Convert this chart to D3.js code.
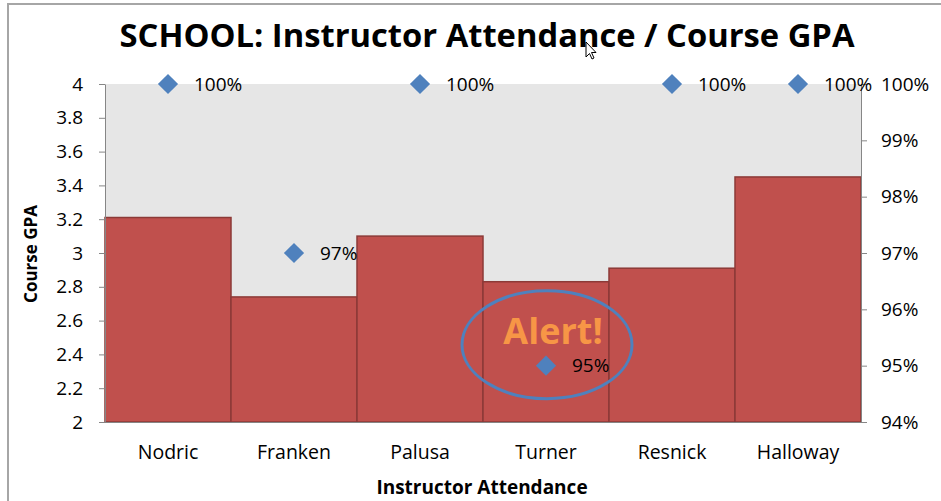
<!DOCTYPE html>
<html lang="en">
<head>
  <meta charset="UTF-8">
  <title>Instructor Attendance / Course GPA</title>
  <style>
    body { margin: 0; background: #fff; }
    svg text { font-family: "Open Sans", "Liberation Sans", sans-serif; fill: #000; }
    .axis path, .axis line { stroke: #868686; }
  </style>
</head>
<body>
  <div id="chart"></div>

  <script src="https://d3js.org/d3.v7.min.js"></script>
  <script>
    // data
    const instructors = ["Nodric", "Franken", "Palusa", "Turner", "Resnick", "Halloway"];
    const gpa = [3.21, 2.74, 3.10, 2.83, 2.91, 3.45];
    const attendance = [1.00, 0.97, 1.00, 0.95, 1.00, 1.00];
    const gpaTicks = [2, 2.2, 2.4, 2.6, 2.8, 3, 3.2, 3.4, 3.6, 3.8, 4];
    const attTicks = [0.94, 0.95, 0.96, 0.97, 0.98, 0.99, 1.00];
    const alertName = "Turner";

    const width = 941, height = 501;
    const plot = { left: 105, right: 861, top: 84, bottom: 422 };

    const svg = d3.select("#chart").append("svg")
      .attr("width", width)
      .attr("height", height);

    // outer frame (only top and left edges visible)
    svg.append("path")
      .attr("d", `M8,${height} L8,4 L${width},4`)
      .attr("fill", "none")
      .attr("stroke", "#a6a6a6")
      .attr("stroke-width", 2);

    const x = d3.scaleBand().domain(instructors).range([plot.left, plot.right]).padding(0);
    const yL = d3.scaleLinear().domain([2, 4]).range([plot.bottom, plot.top]);
    const yR = d3.scaleLinear().domain([0.94, 1.0]).range([plot.bottom, plot.top]);

    // plot background
    svg.append("rect")
      .attr("x", plot.left).attr("y", plot.top)
      .attr("width", plot.right - plot.left)
      .attr("height", plot.bottom - plot.top)
      .attr("fill", "#e6e6e6");

    // bars
    svg.selectAll("rect.bar")
      .data(instructors)
      .enter().append("rect")
      .attr("class", "bar")
      .attr("x", d => x(d))
      .attr("y", (d, i) => yL(gpa[i]))
      .attr("width", x.bandwidth())
      .attr("height", (d, i) => plot.bottom - yL(gpa[i]))
      .attr("fill", "#c0504d")
      .attr("stroke", "#8c3a37")
      .attr("stroke-width", 1.5);

    // left axis
    const gl = svg.append("g")
      .attr("class", "axis")
      .attr("transform", `translate(${plot.left},0)`)
      .call(d3.axisLeft(yL).tickValues(gpaTicks).tickSize(6).tickSizeOuter(0).tickPadding(16)
        .tickFormat(d => String(+d.toFixed(1))));
    gl.selectAll("text").attr("font-size", 19);

    // right axis
    const gr = svg.append("g")
      .attr("class", "axis")
      .attr("transform", `translate(${plot.right},0)`)
      .call(d3.axisRight(yR).tickValues(attTicks).tickSize(6).tickSizeOuter(0).tickPadding(14)
        .tickFormat(d3.format(".0%")));
    gr.selectAll("text").attr("font-size", 19);

    // bottom axis
    const gb = svg.append("g")
      .attr("class", "axis")
      .attr("transform", `translate(0,${plot.bottom})`)
      .call(d3.axisBottom(x).tickSize(0).tickPadding(23));
    gb.selectAll("text").attr("font-size", 19.5);

    // attendance markers
    const pts = svg.selectAll("g.pt")
      .data(instructors)
      .enter().append("g")
      .attr("class", "pt")
      .attr("transform", (d, i) => `translate(${x(d) + x.bandwidth() / 2},${yR(attendance[i])})`);
    pts.append("path")
      .attr("d", d3.symbol(d3.symbolDiamond2, 260)())
      .attr("fill", "#4f81bd");
    pts.append("text")
      .attr("x", 26)
      .attr("dy", "0.35em")
      .attr("font-size", 19)
      .text((d, i) => d3.format(".0%")(attendance[i]));

    // alert annotation
    const ai = instructors.indexOf(alertName);
    const ax = x(alertName) + x.bandwidth() / 2;
    const ay = yR(attendance[ai]);
    svg.append("ellipse")
      .attr("cx", ax + 1).attr("cy", ay - 21)
      .attr("rx", 85).attr("ry", 54)
      .attr("fill", "none")
      .attr("stroke", "#4f81bd")
      .attr("stroke-width", 3);
    svg.append("text")
      .attr("x", ax + 7).attr("y", ay - 22)
      .attr("text-anchor", "middle")
      .attr("font-size", 36)
      .attr("font-weight", "bold")
      .style("fill", "#f79646")
      .text("Alert!");

    // title: shrink the font until it fits the reference width
    const title = svg.append("text")
      .attr("x", 487).attr("y", 47)
      .attr("text-anchor", "middle")
      .attr("font-size", 37)
      .attr("font-weight", "bold")
      .text("SCHOOL: Instructor Attendance / Course GPA");
    const tw = title.node().getComputedTextLength();
    if (tw > 735) title.attr("font-size", 37 * 735 / tw);

    const xt = svg.append("text")
      .attr("x", 482).attr("y", 494)
      .attr("text-anchor", "middle")
      .attr("font-size", 19)
      .attr("font-weight", "bold")
      .text("Instructor Attendance");
    const xw = xt.node().getComputedTextLength();
    if (xw > 226) xt.attr("font-size", 19 * 226 / xw);

    svg.append("text")
      .attr("transform", "translate(37,254) rotate(-90)")
      .attr("text-anchor", "middle")
      .attr("font-size", 17)
      .attr("font-weight", "bold")
      .text("Course GPA");

    // mouse pointer seen in the screenshot
    svg.append("path")
      .attr("d", "M586,42 L586,57 L589.5,53.5 L592,59 L594,58 L591.5,52.5 L596,52.5 Z")
      .attr("fill", "#fff")
      .attr("stroke", "#000")
      .attr("stroke-width", 1);
  </script>
</body>
</html>
